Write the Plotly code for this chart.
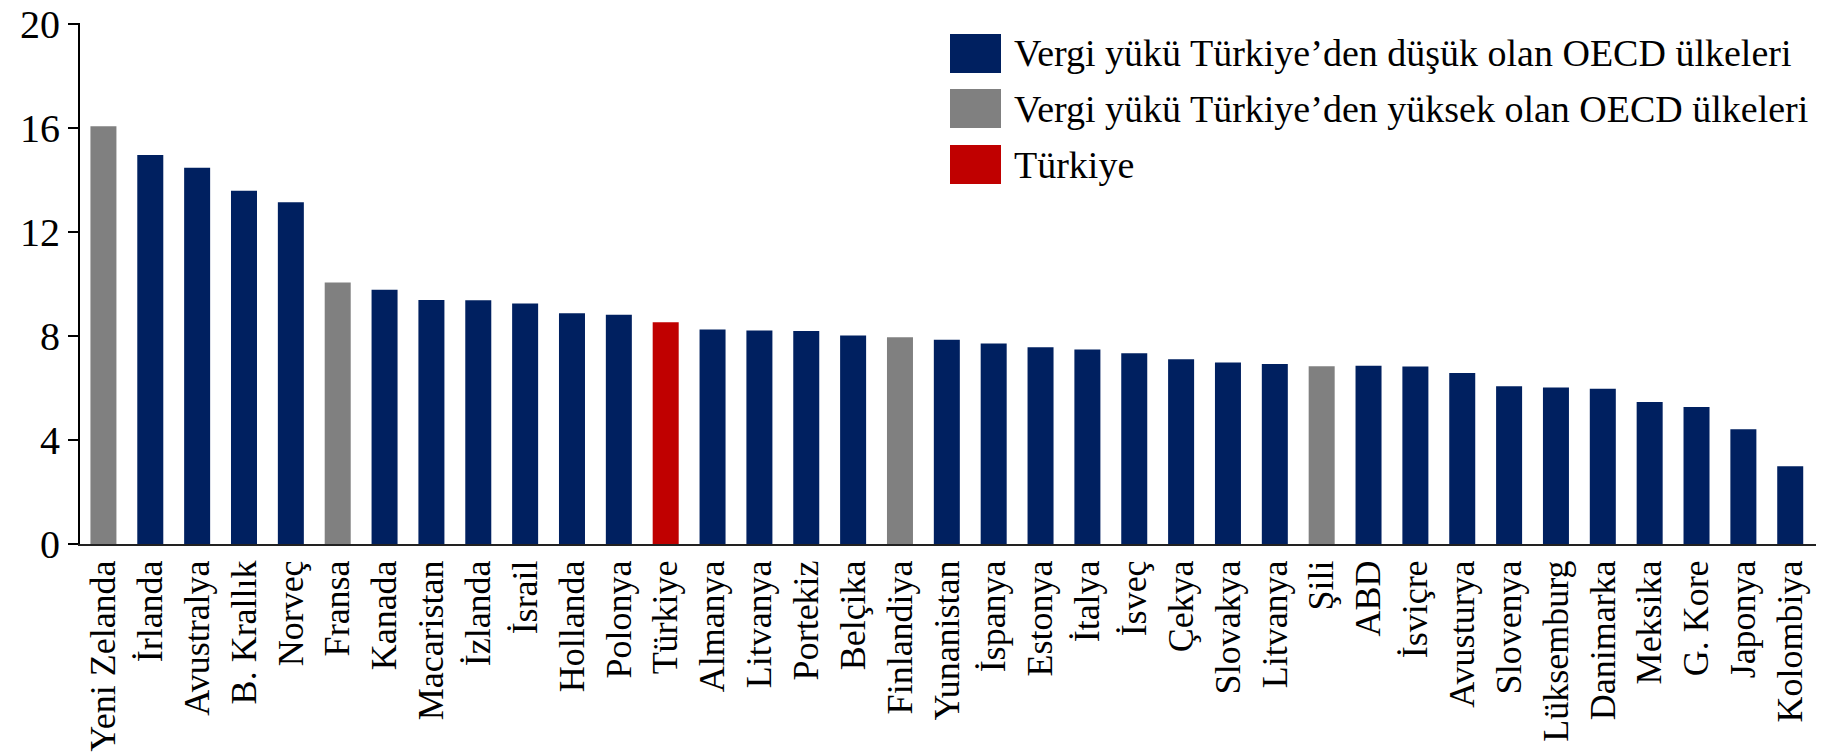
import plotly.graph_objects as go

# Ülkeler ve vergi yükü değerleri
countries = [
    "Yeni Zelanda", "İrlanda", "Avustralya", "B. Krallık", "Norveç", "Fransa",
    "Kanada", "Macaristan", "İzlanda", "İsrail", "Hollanda", "Polonya", "Türkiye",
    "Almanya", "Litvanya", "Portekiz", "Belçika", "Finlandiya", "Yunanistan",
    "İspanya", "Estonya", "İtalya", "İsveç", "Çekya", "Slovakya", "Litvanya",
    "Şili", "ABD", "İsviçre", "Avusturya", "Slovenya", "Lüksemburg", "Danimarka",
    "Meksika", "G. Kore", "Japonya", "Kolombiya",
]
values = [
    16.05, 14.95, 14.46, 13.57, 13.13, 10.05,
    9.77, 9.38, 9.37, 9.24, 8.87, 8.81, 8.52,
    8.24, 8.20, 8.18, 8.01, 7.94, 7.85,
    7.70, 7.56, 7.47, 7.33, 7.10, 6.97, 6.92,
    6.83, 6.85, 6.82, 6.57, 6.06, 6.01, 5.97,
    5.46, 5.26, 4.41, 2.99,
]
# 0: düşük, 1: yüksek, 2: Türkiye
groups = [
    1, 0, 0, 0, 0, 1,
    0, 0, 0, 0, 0, 0, 2,
    0, 0, 0, 0, 1, 0,
    0, 0, 0, 0, 0, 0, 0,
    1, 0, 0, 0, 0, 0, 0,
    0, 0, 0, 0,
]
group_names = [
    "Vergi yükü Türkiye’den düşük olan OECD ülkeleri",
    "Vergi yükü Türkiye’den yüksek olan OECD ülkeleri",
    "Türkiye",
]
group_colors = ["#002060", "#808080", "#C00000"]
y_ticks = [0, 4, 8, 12, 16, 20]

FONT = "Liberation Serif"
W, H = 1823, 756
ML, MR, MT, MB = 80, 7, 23, 212

positions = list(range(len(countries)))

fig = go.Figure()
for g, (name, color) in enumerate(zip(group_names, group_colors)):
    xs = [p for p, gg in zip(positions, groups) if gg == g]
    ys = [v for v, gg in zip(values, groups) if gg == g]
    fig.add_trace(go.Bar(
        x=xs, y=ys, name=name, marker=dict(color=color, line=dict(width=0)),
        width=0.555, showlegend=False,
    ))

# Legend drawn as colour boxes with labels
pw = W - ML - MR
ph = H - MT - MB
def px_x(p):
    return (p - ML) / pw
def px_y(p):
    return (H - MB - p) / ph

rows = [(34, 73), (89, 128), (145, 184)]
for (top, bot), name, color in zip(rows, group_names, group_colors):
    fig.add_shape(type="rect", xref="paper", yref="paper",
                  x0=px_x(950), x1=px_x(1001), y0=px_y(bot), y1=px_y(top),
                  fillcolor=color, line=dict(width=0))
    fig.add_annotation(xref="paper", yref="paper", x=px_x(1012),
                       y=px_y((top + bot) / 2), text=name, showarrow=False,
                       xanchor="left", yanchor="middle",
                       font=dict(family=FONT, size=38, color="black"))

fig.update_layout(
    width=W, height=H,
    margin=dict(l=ML, r=MR, t=MT, b=MB, pad=0, autoexpand=False),
    paper_bgcolor="white", plot_bgcolor="white",
    barmode="overlay",
    font=dict(family=FONT, size=36, color="black"),
    xaxis=dict(
        tickmode="array", tickvals=positions, ticktext=countries,
        tickangle=-90, range=[-0.5, len(countries) - 0.45],
        showline=True, linecolor="#222222", linewidth=2,
        ticks="", showgrid=False, zeroline=False, automargin=False,
        ticklabeloverflow="allow",
        tickfont=dict(family=FONT, size=36, color="black"),
    ),
    yaxis=dict(
        range=[0, 20.02], tickmode="array", tickvals=y_ticks,
        showline=True, linecolor="black", linewidth=2,
        ticks="outside", ticklen=10, tickwidth=2, tickcolor="black",
        showgrid=False, zeroline=False, automargin=False,
        ticklabeloverflow="allow",
        tickfont=dict(family=FONT, size=40, color="black"),
    ),
)

fig.write_html("out.html")
